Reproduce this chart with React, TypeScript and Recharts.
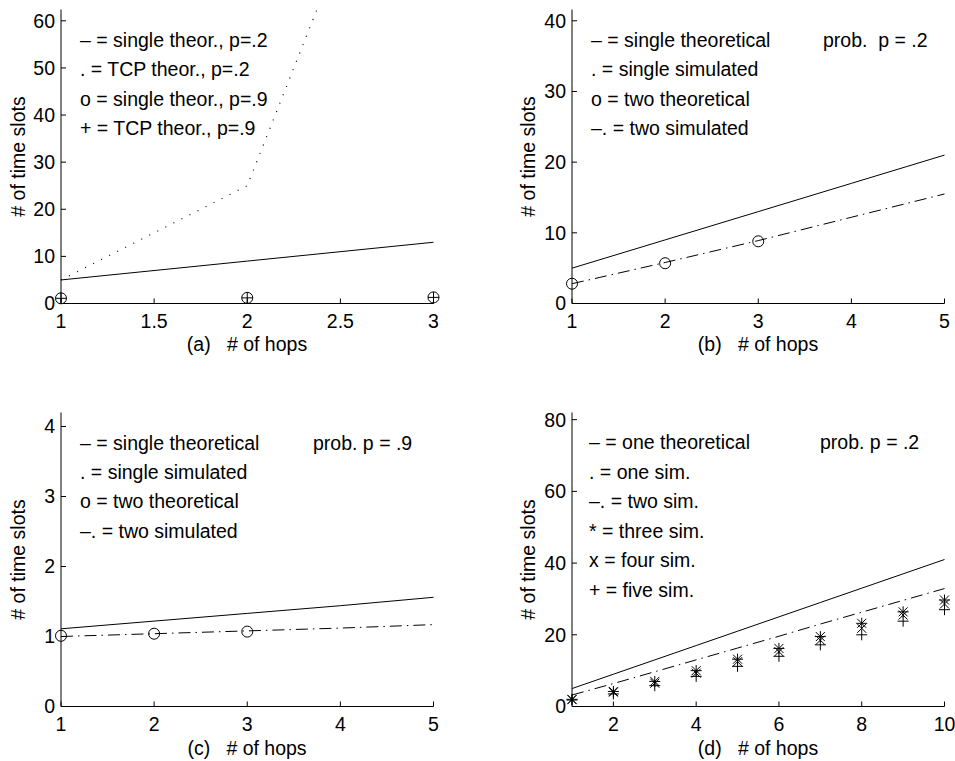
import React from 'react'
import { LineChart, Line, XAxis, YAxis } from 'recharts'

// (a) single hop vs TCP, theoretical
const hopsA = [1, 2, 3]
const singleTheorP2 = [5, 9, 13]
const tcpTheorP2 = [5, 25, 125]
const singleTheorP9 = [1.1, 1.2, 1.3]
const tcpTheorP9 = [1.1, 1.2, 1.3]

// (b) prob p = .2
const hopsB = [1, 2, 3, 4, 5]
const singleTheorB = [5, 9, 13, 17, 21]
const twoTheorB = [2.8, 5.7, 8.8]
const twoSimB = [2.8, 5.8, 8.9, 12.2, 15.5]

// (c) prob p = .9
const hopsC = [1, 2, 3, 4, 5]
const singleTheorC = [1.11, 1.22, 1.33, 1.44, 1.56]
const twoTheorC = [1.01, 1.04, 1.07]
const twoSimC = [1.0, 1.04, 1.08, 1.12, 1.17]

// (d) prob p = .2, one to five
const hopsD = [1, 2, 3, 4, 5, 6, 7, 8, 9, 10]
const oneTheorD = [5, 9, 13, 17, 21, 25, 29, 33, 37, 41]
const twoSimD = [3.2, 6.4, 9.7, 13.0, 16.3, 19.6, 23.0, 26.3, 29.6, 32.9]
const threeSimD = [2.0, 4.2, 7.0, 10.0, 13.2, 16.2, 19.5, 23.2, 26.4, 29.7]
const fourSimD = [1.9, 4.0, 6.5, 9.3, 12.5, 15.3, 18.5, 21.8, 25.5, 28.6]
const fiveSimD = [1.8, 3.5, 5.8, 8.4, 11.2, 14.0, 17.2, 20.0, 23.8, 27.0]

// ticks
const xTicksA = [1, 1.5, 2, 2.5, 3]
const yTicksA = [0, 10, 20, 30, 40, 50, 60]
const xTicksB = [1, 2, 3, 4, 5]
const yTicksB = [0, 10, 20, 30, 40]
const xTicksC = [1, 2, 3, 4, 5]
const yTicksC = [0, 1, 2, 3, 4]
const xTicksD = [2, 4, 6, 8, 10]
const yTicksD = [0, 20, 40, 60, 80]

const FONT = "'Liberation Sans', Arial, Helvetica, sans-serif"
const FS = 19.5
const Y_W = 50
const X_H = 40
const DASHDOT = '12 5 1.5 5'
const DOTTED = '1 8'

const rowsA = hopsA.map((hop, i) => ({
  hop, single2: singleTheorP2[i], tcp2: tcpTheorP2[i], single9: singleTheorP9[i], tcp9: tcpTheorP9[i],
}))
const rowsB = hopsB.map((hop, i) => ({ hop, single: singleTheorB[i], twoTheor: twoTheorB[i], twoSim: twoSimB[i] }))
const rowsC = hopsC.map((hop, i) => ({ hop, single: singleTheorC[i], twoTheor: twoTheorC[i], twoSim: twoSimC[i] }))
const rowsD = hopsD.map((hop, i) => ({
  hop, one: oneTheorD[i], two: twoSimD[i], three: threeSimD[i], four: fourSimD[i], five: fiveSimD[i],
}))

const blank = () => <g />

// matlab style markers: o, +, x, *
const marker = (kind: 'o' | '+' | 'x' | '*' | 'o+') => (p: any) => {
  const { cx, cy, index } = p
  const k = `m-${kind}-${index}`
  if (cx == null || cy == null || Number.isNaN(cy)) return <g key={k} />
  const plus = `M${cx - 5.5},${cy}H${cx + 5.5}M${cx},${cy - 5.5}V${cy + 5.5}`
  const cross = `M${cx - 4.5},${cy - 4.5}L${cx + 4.5},${cy + 4.5}M${cx - 4.5},${cy + 4.5}L${cx + 4.5},${cy - 4.5}`
  return (
    <g key={k} fill="none" stroke="#000" strokeWidth={1}>
      {(kind === 'o' || kind === 'o+') && <circle cx={cx} cy={cy} r={5.5} />}
      {(kind === '+' || kind === 'o+' || kind === '*') && <path d={plus} />}
      {(kind === 'x' || kind === '*') && <path d={cross} />}
    </g>
  )
}

interface Box {
  left: number; top: number; width: number; height: number
  plotL: number; plotR: number; plotT: number; plotB: number
}

const boxA: Box = { left: 0, top: 0, width: 480, height: 380, plotL: 61, plotR: 433.5, plotT: 9.5, plotB: 303.5 }
const boxB: Box = { left: 480, top: 0, width: 475, height: 380, plotL: 572, plotR: 944.5, plotT: 9.5, plotB: 303.5 }
const boxC: Box = { left: 0, top: 380, width: 480, height: 381, plotL: 61, plotR: 433.5, plotT: 412.5, plotB: 706.5 }
const boxD: Box = { left: 480, top: 380, width: 475, height: 381, plotL: 572, plotR: 944.5, plotT: 412.5, plotB: 706.5 }

interface PanelProps {
  box: Box
  data: any[]
  xDomain: [number, number]
  xTicks: number[]
  yDomain: [number, number]
  yTicks: number[]
  clipRight?: boolean
  children: React.ReactNode
}

const Panel = ({ box, data, xDomain, xTicks, yDomain, yTicks, clipRight, children }: PanelProps) => {
  const margin = {
    top: box.plotT - box.top,
    left: box.plotL - box.left - Y_W,
    right: box.left + box.width - box.plotR,
    bottom: box.top + box.height - box.plotB - X_H,
  }
  return (
    <div style={{ position: 'absolute', left: box.left, top: box.top }}>
      <LineChart width={box.width} height={box.height} data={data} margin={margin}>
        <XAxis type="number" dataKey="hop" domain={xDomain} ticks={xTicks} interval={0} height={X_H}
          stroke="#000" tickSize={-5} tickMargin={16} tick={{ fill: '#000', fontSize: FS }} />
        <XAxis xAxisId="top" orientation="top" type="number" dataKey="hop" domain={xDomain} ticks={xTicks}
          interval={0} height={0} stroke="#000" tickSize={-5} tick={blank} />
        <YAxis type="number" domain={yDomain} ticks={yTicks} interval={0} width={Y_W}
          stroke="#000" tickSize={-5} tickMargin={11} tick={{ fill: '#000', fontSize: FS }} />
        <YAxis yAxisId="right" orientation="right" type="number" domain={yDomain} ticks={yTicks} interval={0}
          width={0} stroke="#000" tickSize={-5} tick={blank} allowDataOverflow={!!clipRight} />
        {children}
      </LineChart>
    </div>
  )
}

interface Txt { x: number; y: number; s: string; anchor?: 'start' | 'middle' | 'end'; rot?: boolean }

const legendRows = (x: number, y0: number, gap: number, lines: string[]): Txt[] =>
  lines.map((s, i) => ({ x, y: y0 + i * gap, s }))

const texts: Txt[] = [
  ...legendRows(80, 47, 29.4, ['– = single theor., p=.2', '. = TCP theor., p=.2', 'o = single theor., p=.9', '+ = TCP theor., p=.9']),
  ...legendRows(591, 47, 29.4, ['– = single theoretical', '. = single simulated', 'o = two theoretical', '–. = two simulated']),
  { x: 823, y: 47, s: 'prob.  p = .2' },
  ...legendRows(80, 450, 29.2, ['– = single theoretical', '. = single simulated', 'o = two theoretical', '–. = two simulated']),
  { x: 313, y: 450, s: 'prob. p = .9' },
  ...legendRows(589, 449, 29.6, ['– = one theoretical', '. = one sim.', '–. = two sim.', '* = three sim.', 'x = four sim.', '+ = five sim.']),
  { x: 820, y: 449, s: 'prob. p = .2' },
  { x: 247, y: 351, s: '(a)   # of hops', anchor: 'middle' },
  { x: 758, y: 351, s: '(b)   # of hops', anchor: 'middle' },
  { x: 247, y: 755, s: '(c)   # of hops', anchor: 'middle' },
  { x: 758, y: 755, s: '(d)   # of hops', anchor: 'middle' },
  { x: 18, y: 156.5, s: '# of time slots', anchor: 'middle', rot: true },
  { x: 528, y: 156.5, s: '# of time slots', anchor: 'middle', rot: true },
  { x: 18, y: 559.5, s: '# of time slots', anchor: 'middle', rot: true },
  { x: 528, y: 559.5, s: '# of time slots', anchor: 'middle', rot: true },
]

export default function App() {
  return (
    <div style={{ position: 'absolute', left: 0, top: 0, width: 955, height: 761, background: '#fff', fontFamily: FONT }}>
      <Panel box={boxA} data={rowsA} xDomain={[1, 3]} xTicks={xTicksA} yDomain={[0, 62.4]} yTicks={yTicksA} clipRight>
        <Line dataKey="single2" stroke="#000" strokeWidth={1} dot={false} isAnimationActive={false} />
        <Line dataKey="tcp2" yAxisId="right" stroke="#000" strokeWidth={1.2} strokeDasharray={DOTTED} dot={false} isAnimationActive={false} />
        <Line dataKey="single9" stroke="none" dot={marker('o')} isAnimationActive={false} />
        <Line dataKey="tcp9" stroke="none" dot={marker('+')} isAnimationActive={false} />
      </Panel>
      <Panel box={boxB} data={rowsB} xDomain={[1, 5]} xTicks={xTicksB} yDomain={[0, 41.6]} yTicks={yTicksB}>
        <Line dataKey="single" stroke="#000" strokeWidth={1} dot={false} isAnimationActive={false} />
        <Line dataKey="twoSim" stroke="#000" strokeWidth={1} strokeDasharray={DASHDOT} dot={false} isAnimationActive={false} />
        <Line dataKey="twoTheor" stroke="none" dot={marker('o')} isAnimationActive={false} />
      </Panel>
      <Panel box={boxC} data={rowsC} xDomain={[1, 5]} xTicks={xTicksC} yDomain={[0, 4.2]} yTicks={yTicksC}>
        <Line dataKey="single" stroke="#000" strokeWidth={1} dot={false} isAnimationActive={false} />
        <Line dataKey="twoSim" stroke="#000" strokeWidth={1} strokeDasharray={DASHDOT} dot={false} isAnimationActive={false} />
        <Line dataKey="twoTheor" stroke="none" dot={marker('o')} isAnimationActive={false} />
      </Panel>
      <Panel box={boxD} data={rowsD} xDomain={[1, 10]} xTicks={xTicksD} yDomain={[0, 82]} yTicks={yTicksD}>
        <Line dataKey="one" stroke="#000" strokeWidth={1} dot={false} isAnimationActive={false} />
        <Line dataKey="two" stroke="#000" strokeWidth={1} strokeDasharray={DASHDOT} dot={false} isAnimationActive={false} />
        <Line dataKey="three" stroke="none" dot={marker('*')} isAnimationActive={false} />
        <Line dataKey="four" stroke="none" dot={marker('x')} isAnimationActive={false} />
        <Line dataKey="five" stroke="none" dot={marker('+')} isAnimationActive={false} />
      </Panel>
      <svg width={955} height={761} style={{ position: 'absolute', left: 0, top: 0, pointerEvents: 'none' }}>
        {texts.map((t, i) => (
          <text key={i} x={t.x} y={t.y} fontSize={FS} fill="#000" textAnchor={t.anchor || 'start'}
            dominantBaseline={t.rot ? 'central' : undefined} style={{ whiteSpace: 'pre' }}
            transform={t.rot ? `rotate(-90 ${t.x} ${t.y})` : undefined}>
            {t.s}
          </text>
        ))}
      </svg>
    </div>
  )
}
